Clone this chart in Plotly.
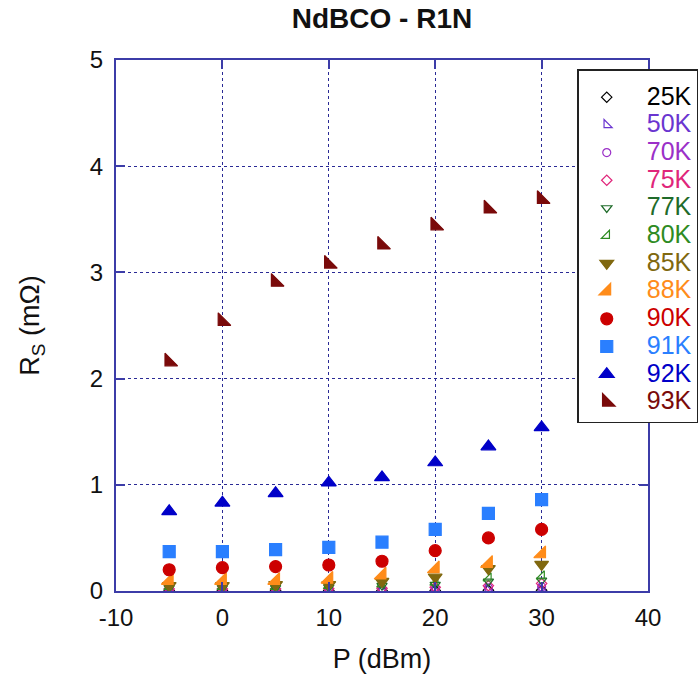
import plotly.graph_objects as go

# Input power (dBm)
power = [-5, 0, 5, 10, 15, 20, 25, 30]
x_ticks = [-10, 0, 10, 20, 30, 40]
x_tick_text = ["-10", "0", "10", "20", "30", "40"]

# Surface resistance Rs (mOhm) per temperature
temps = ["25K", "50K", "70K", "75K", "77K", "80K", "85K", "88K", "90K", "91K", "92K", "93K"]
rs_25 = [0.003, 0.003, 0.003, 0.004, 0.004, 0.005, 0.006, 0.007]
rs_50 = [0.005, 0.005, 0.005, 0.006, 0.007, 0.009, 0.012, 0.015]
rs_70 = [0.01, 0.01, 0.01, 0.012, 0.015, 0.02, 0.03, 0.04]
rs_75 = [0.02, 0.02, 0.02, 0.022, 0.025, 0.035, 0.05, 0.07]
rs_77 = [0.03, 0.03, 0.03, 0.035, 0.05, 0.06, 0.09, 0.10]
rs_80 = [0.04, 0.04, 0.04, 0.05, 0.065, 0.08, 0.12, 0.14]
rs_85 = [0.05, 0.05, 0.06, 0.06, 0.09, 0.13, 0.21, 0.25]
rs_88 = [0.10, 0.10, 0.10, 0.11, 0.15, 0.21, 0.26, 0.35]
rs_90 = [0.20, 0.22, 0.23, 0.245, 0.28, 0.38, 0.50, 0.58]
rs_91 = [0.37, 0.37, 0.39, 0.41, 0.46, 0.58, 0.73, 0.86]
rs_92 = [0.75, 0.83, 0.92, 1.02, 1.07, 1.21, 1.36, 1.54]
rs_93 = [2.16, 2.54, 2.91, 3.08, 3.26, 3.44, 3.60, 3.69]

series = [rs_25, rs_50, rs_70, rs_75, rs_77, rs_80, rs_85, rs_88, rs_90, rs_91, rs_92, rs_93]
colors = ["#000000", "#6a35d0", "#9b30c8", "#e0257a", "#1f6b2a", "#2e8b22",
          "#80680f", "#ff8c1a", "#cc0000", "#2a7fff", "#0000c8", "#7a0a0a"]
symbols = ["diamond-open", "triangle-sw-open", "circle-open", "diamond-open",
           "triangle-down-open", "triangle-se-open", "triangle-down", "triangle-se",
           "circle", "square", "triangle-up", "triangle-sw"]
sizes = [8, 9, 8, 8, 9, 9, 12, 13, 12, 12, 13, 14]

FONT = "Liberation Sans, Arial, Helvetica"

fig = go.Figure()
for name, ys, c, s, sz in zip(temps, series, colors, symbols, sizes):
    fig.add_trace(go.Scatter(
        x=power, y=ys, mode="markers",
        name=f"<span style='color:{c};font-size:25px'>{name}</span>",
        marker=dict(color=c, symbol=s, size=sz, line=dict(color=c, width=1.2)),
    ))

axis_color = "#3c3ca8"
common = dict(
    showline=True, linecolor=axis_color, linewidth=2, mirror="ticks",
    ticks="inside", ticklen=9, tickcolor=axis_color, tickwidth=1.5,
    showgrid=True, gridcolor="#2a2a95", griddash="dot", gridwidth=1,
    zeroline=False,
    tickfont=dict(family=FONT, size=24, color="#111"),
)

fig.update_layout(
    width=700, height=682,
    margin=dict(l=116, r=52, t=60, b=91, autoexpand=False),
    paper_bgcolor="white", plot_bgcolor="white",
    title=dict(text="<b>NdBCO - R1N</b>", x=(116 + 648) / 2 / 700, xanchor="center",
               y=0.988, yanchor="top",
               font=dict(family=FONT, size=28, color="#111")),
    xaxis=dict(range=[-10, 40], tickvals=x_ticks, ticktext=x_tick_text,
               ticklabelstandoff=4,
               title=dict(text="P (dBm)", standoff=19,
                          font=dict(family=FONT, size=27, color="#111")),
               **common),
    yaxis=dict(range=[0, 5], dtick=1, ticklabelstandoff=6,
               title=dict(text="R<sub>S</sub> (mΩ)", standoff=42,
                          font=dict(family=FONT, size=27, color="#111")),
               **common),
    legend=dict(x=0.867, y=0.983, xanchor="left", yanchor="top",
                bgcolor="white", bordercolor="#222", borderwidth=1.5,
                font=dict(family=FONT, size=19),
                title=dict(text=" ", font=dict(size=6)),
                indentation=-12, itemwidth=70, tracegroupgap=0),
    showlegend=True,
)

fig.write_html("out.html")
